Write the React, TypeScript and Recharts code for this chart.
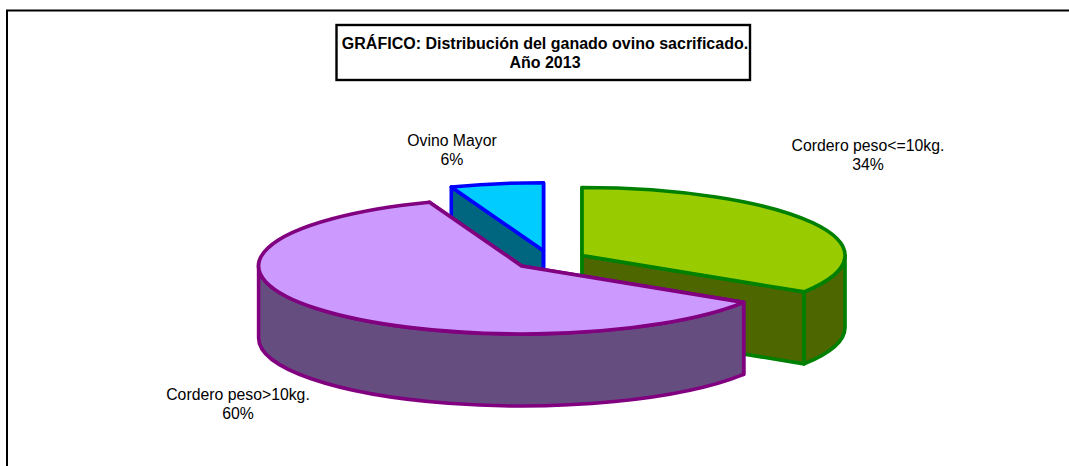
import React from "react";
import { PieChart, Pie, Cell } from "recharts";

const categories = ["Ovino Mayor", "Cordero peso<=10kg.", "Cordero peso>10kg."];
const shares = [5.7, 34, 60.3];
const topColors = ["#00CCFF", "#99CC00", "#CC99FF"];
const sideColors = ["#006680", "#4D6600", "#664D80"];
const edgeColors = ["#0000FF", "#008000", "#800080"];
const labelCentres = [
  { x: 452, y: 141 },
  { x: 868, y: 146 },
  { x: 238, y: 395 },
];
const titleLines = ["GRÁFICO: Distribución del ganado ovino sacrificado.", "Año 2013"];

const data = categories.map((name, i) => ({ name, value: shares[i], index: i }));

const TILT = 68 / 263;
const DEPTH = 72;
const EXPLODE = 0.139;
const RAD = Math.PI / 180;
const FONT = "'Liberation Sans', Arial, sans-serif";
const TOP_ANGLE = 90 + (shares[0] / 100) * 360;

function Slice3D(props: any) {
  const { cx, cy, outerRadius, startAngle, endAngle, payload, index } = props;
  const i = payload?.index ?? index;
  const rx = outerRadius;
  const ry = rx * TILT;
  const mid = ((startAngle + endAngle) / 2) * RAD;
  const ox = cx + EXPLODE * rx * Math.cos(mid);
  const oy = cy - EXPLODE * ry * Math.sin(mid);
  const pt = (deg: number) => ({
    x: ox + rx * Math.cos(deg * RAD),
    y: oy - ry * Math.sin(deg * RAD),
  });
  const s = pt(startAngle);
  const e = pt(endAngle);
  const sweep = Math.abs(startAngle - endAngle);
  const large = sweep > 180 ? 1 : 0;
  const face = (p: { x: number; y: number }) =>
    `M${ox},${oy} L${p.x},${p.y} L${p.x},${p.y + DEPTH} L${ox},${oy + DEPTH} Z`;

  // the front of the rim: math angles between 180 and 360 in this slice
  let sideD = "";
  for (const k of [-720, -360, 0, 360]) {
    const a = Math.min(startAngle, 360 + k);
    const b = Math.max(endAngle, 180 + k);
    if (a > b + 0.01) {
      const A = pt(a);
      const B = pt(b);
      const big = a - b > 180 ? 1 : 0;
      sideD =
        `M${A.x},${A.y} A${rx},${ry} 0 ${big} 1 ${B.x},${B.y} ` +
        `L${B.x},${B.y + DEPTH} A${rx},${ry} 0 ${big} 0 ${A.x},${A.y + DEPTH} Z`;
    }
  }
  const common = {
    stroke: edgeColors[i],
    strokeWidth: 3.6,
    strokeLinejoin: "round" as const,
  };
  return (
    <g>
      <path d={face(s)} fill={sideColors[i]} {...common} />
      <path d={face(e)} fill={sideColors[i]} {...common} />
      {sideD ? <path d={sideD} fill={sideColors[i]} {...common} /> : null}
      <path
        d={`M${ox},${oy} L${s.x},${s.y} A${rx},${ry} 0 ${large} 1 ${e.x},${e.y} Z`}
        fill={topColors[i]}
        {...common}
      />
    </g>
  );
}

function SliceLabel(props: any) {
  const i = props.index;
  const c = labelCentres[i];
  return (
    <text x={c.x} y={c.y} textAnchor="middle" fontFamily={FONT} fontSize={15.8} fill="#000">
      <tspan x={c.x} dy={5}>{categories[i]}</tspan>
      <tspan x={c.x} dy={19}>{`${Math.round(shares[i])}%`}</tspan>
    </text>
  );
}

export default function App() {
  return (
    <div style={{ position: "absolute", left: 0, top: 0, width: 1069, height: 466, background: "#fff", overflow: "hidden" }}>
      <PieChart width={1069} height={466} margin={{ top: 0, right: 0, bottom: 0, left: 0 }}>
        <path d="M7,466 L7,10.5 L1069,10.5" fill="none" stroke="#000" strokeWidth={2} />
        <rect x={336.5} y={25} width={413.5} height={55} fill="#fff" stroke="#000" strokeWidth={2.4} />
        <text textAnchor="middle" fontFamily={FONT} fontSize={16} fontWeight="bold" fill="#000">
          <tspan x={545} y={49}>{titleLines[0]}</tspan>
          <tspan x={545} y={68}>{titleLines[1]}</tspan>
        </text>
        <Pie
          data={data}
          dataKey="value"
          nameKey="name"
          cx={550}
          cy={260}
          innerRadius={0}
          outerRadius={263}
          startAngle={TOP_ANGLE}
          endAngle={TOP_ANGLE - 360}
          paddingAngle={0}
          isAnimationActive={false}
          shape={Slice3D}
          label={SliceLabel}
          labelLine={false}
        >
          {data.map((d, i) => (
            <Cell key={d.name} fill={topColors[i]} />
          ))}
        </Pie>
      </PieChart>
    </div>
  );
}
